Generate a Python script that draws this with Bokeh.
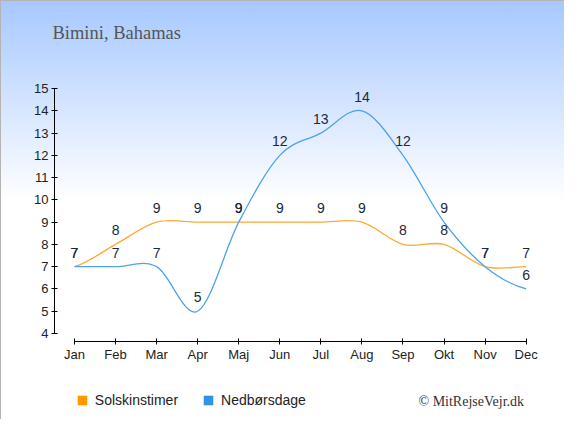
from bokeh.plotting import figure
from bokeh.models import Range1d, FixedTicker, Label, Legend, LegendItem, ColumnDataSource
from bokeh.core.properties import value
from bokeh.embed import file_html
from bokeh.resources import INLINE

months = ["Jan", "Feb", "Mar", "Apr", "Maj", "Jun", "Jul", "Aug", "Sep", "Okt", "Nov", "Dec"]
sun_hours = [7, 8, 9, 9, 9, 9, 9, 9, 8, 8, 7, 7]
rain_days = [7, 7, 7, 5, 9, 12, 13, 14, 12, 9, 7, 6]
y_ticks = list(range(4, 16))
title_text = "Bimini, Bahamas"
credit_text = "\u00a9 MitRejseVejr.dk"
series_names = ["Solskinstimer", "Nedb\u00f8rsdage"]

ORANGE = "#ffa833"
BLUE = "#4da2ec"
SANS = "Liberation Sans"
SERIF = "Liberation Serif"

W, H = 564, 419
PX_X = 41.06   # pixels per month
PX_Y = 22.27   # pixels per unit
x0 = -74 / PX_X
y0 = 4 - (H - 333) / PX_Y

p = figure(width=W, height=H, output_backend="svg", toolbar_location=None,
           x_range=Range1d(x0, x0 + W / PX_X), y_range=Range1d(y0, y0 + H / PX_Y),
           min_border=0)
p.styles = {"background": "linear-gradient(to bottom, #a6c8ff 0%, #ffffff 48%, #ffffff 100%)",
            "box-shadow": "inset 1px 1px 0 0 #b4b4b4"}
p.border_fill_alpha = 0
p.background_fill_alpha = 0
p.outline_line_color = None
p.grid.visible = False

for ax in (p.xaxis[0], p.yaxis[0]):
    ax.axis_line_color = "black"
    ax.major_tick_line_color = "black"
    ax.major_tick_in = 3
    ax.major_tick_out = 3
    ax.minor_tick_line_color = None
    ax.major_label_text_font = SANS
    ax.major_label_text_font_size = "13px"
    ax.major_label_text_color = "#222222"
    ax.major_label_standoff = 3

p.xaxis.ticker = FixedTicker(ticks=list(range(len(months))))
p.xaxis.major_label_overrides = {i: m for i, m in enumerate(months)}
p.xaxis.bounds = (0, len(months) - 1)
p.xaxis.fixed_location = 4 - 8 / PX_Y
p.xaxis.major_label_standoff = 2
p.yaxis.ticker = FixedTicker(ticks=y_ticks)
p.yaxis.bounds = (y_ticks[0], y_ticks[-1])
p.yaxis.fixed_location = x0 + 54 / PX_X


def spline(ys):
    n = len(ys)
    xs = list(range(n))
    m = []
    for i in range(n):
        if i == 0:
            m.append((ys[1] - ys[0]) / 2)
        elif i == n - 1:
            m.append((ys[-1] - ys[-2]) / 2)
        else:
            m.append((ys[i + 1] - ys[i - 1]) / 2)
    return dict(
        x0=xs[:-1], y0=ys[:-1], x1=xs[1:], y1=ys[1:],
        cx0=[x + 1 / 3 for x in xs[:-1]], cy0=[ys[i] + m[i] / 3 for i in range(n - 1)],
        cx1=[x - 1 / 3 for x in xs[1:]], cy1=[ys[i + 1] - m[i + 1] / 3 for i in range(n - 1)],
    )


for ys, col in ((sun_hours, ORANGE), (rain_days, BLUE)):
    src = ColumnDataSource(spline(ys))
    p.bezier(x0="x0", y0="y0", x1="x1", y1="y1", cx0="cx0", cy0="cy0", cx1="cx1", cy1="cy1",
             source=src, line_color=col, line_width=1.3)

for ys in (sun_hours, rain_days):
    p.text(x=list(range(len(months))), y=ys, text=[str(v) for v in ys],
           text_font=value(SANS), text_font_size="14px", text_color="#1a2840",
           text_align="center", text_baseline="alphabetic", y_offset=-14)

# legend squares (renderers with no visible mark, used only for the legend)
nan = float("nan")
r_sun = p.quad(left=[nan], right=[nan], top=[nan], bottom=[nan], fill_color="#ff9900", line_color=None)
r_rain = p.quad(left=[nan], right=[nan], top=[nan], bottom=[nan], fill_color="#3391e6", line_color=None)
legend = Legend(items=[LegendItem(label=series_names[0], renderers=[r_sun]),
                       LegendItem(label=series_names[1], renderers=[r_rain])],
                location=(75.8, 11.5), orientation="horizontal",
                glyph_width=12, glyph_height=12, label_standoff=7, spacing=24,
                padding=0, margin=0, border_line_color=None, background_fill_alpha=0,
                label_text_font=SANS, label_text_font_size="14px", label_text_color="#222222")
p.add_layout(legend, "center")

p.add_layout(Label(x=52, y=H - 32, x_units="screen", y_units="screen", text=title_text,
                   text_font=SERIF, text_font_size="18.5px", text_color="#555555",
                   text_baseline="middle"))
p.add_layout(Label(x=418, y=H - 401, x_units="screen", y_units="screen", text=credit_text,
                   text_font=SERIF, text_font_size="14px", text_color="#333333",
                   text_baseline="middle"))

open("out.html", "w").write(file_html(p, INLINE))
